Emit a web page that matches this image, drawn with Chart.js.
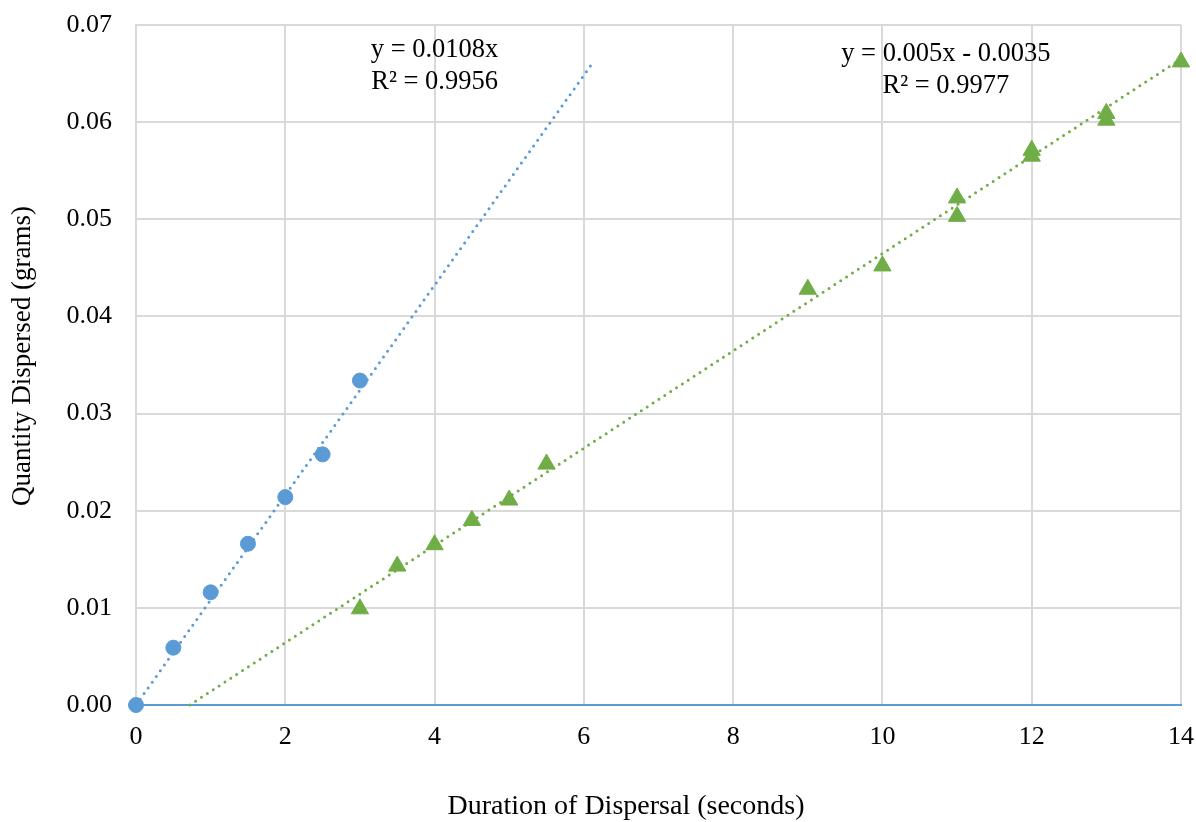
<!DOCTYPE html>
<html>
<head>
<meta charset="utf-8">
<script src="https://cdn.jsdelivr.net/npm/chart.js@4"></script>
<style>
    body { margin: 0; background: #fff; }
</style>
</head>
<body>
<canvas id="DispersalChart" width="1196" height="822"></canvas>
<script>
// utslag per tid
var blueX = [0, 0.5, 1, 1.5, 2, 2.5, 3];
var blueY = [0, 0.0059, 0.0116, 0.0166, 0.0214, 0.0258, 0.0334];

var greenX = [3, 3.5, 4, 4.5, 5, 5.5, 9, 10, 11, 11, 12, 12, 13, 13, 14];
var greenY = [0.0099, 0.0143, 0.0165, 0.019, 0.0211, 0.0248, 0.0428, 0.0452, 0.0522, 0.0503, 0.0571, 0.0565, 0.0609, 0.0602, 0.0662];

// trendlinjer, ändpunkter
var blueFitX = [0, 6.1];
var blueFitY = [0, 0.0659];
var greenFitX = [0.72, 14];
var greenFitY = [0, 0.0665];

var blueLabel = ["y = 0.0108x", "R² = 0.9956"];
var greenLabel = ["y = 0.005x - 0.0035", "R² = 0.9977"];

var xTitle = "Duration of Dispersal (seconds)";
var yTitle = "Quantity Dispersed (grams)";

var xTicks = [0, 2, 4, 6, 8, 10, 12, 14];
var yTicks = [0, 0.01, 0.02, 0.03, 0.04, 0.05, 0.06, 0.07];

function toPoints(xs, ys) {
    var pts = [];
    for (var i = 0; i < xs.length; ++i) {
        pts.push({ x: xs[i], y: ys[i] });
    }
    return pts;
}

var BLUE = "#5B9BD5";
var GREEN = "#70AD47";
var FONT = "'Liberation Serif', 'Times New Roman', serif";

// ekvationer och axeltitlar
var textPlugin = {
    id: "texts",
    afterDatasetsDraw: function (chart) {
        var ctx = chart.ctx;
        var xs = chart.scales.x;
        var ys = chart.scales.y;
        var labels = [
            { lines: blueLabel, x: 4.0, y: 0.0674 },
            { lines: greenLabel, x: 10.85, y: 0.067 }
        ];
        ctx.save();
        ctx.font = "26.5px " + FONT;
        ctx.fillStyle = "#000";
        ctx.textAlign = "center";
        ctx.textBaseline = "middle";
        labels.forEach(function (l) {
            var px = xs.getPixelForValue(l.x);
            var py = ys.getPixelForValue(l.y);
            for (var i = 0; i < l.lines.length; ++i) {
                ctx.fillText(l.lines[i], px, py + i * 32);
            }
        });

        // axeltitlar, Excel centrerar dem lite annorlunda
        ctx.font = "28px " + FONT;
        ctx.fillText(xTitle, 626, 807);

        ctx.font = "27px " + FONT;
        ctx.translate(23, 356);
        ctx.rotate(-Math.PI / 2);
        ctx.fillText(yTitle, 0, 0);
        ctx.restore();
    }
};

const data = {
    datasets: [
        {
            label: "Blue",
            data: toPoints(blueX, blueY),
            backgroundColor: BLUE,
            borderColor: BLUE,
            pointStyle: "circle",
            pointRadius: 7.5,
            clip: false,
            order: 0
        },
        {
            label: "Green",
            data: toPoints(greenX, greenY),
            backgroundColor: GREEN,
            borderColor: GREEN,
            pointStyle: "triangle",
            pointRadius: 10,
            clip: false,
            order: 0
        },
        {
            label: "Blue fit",
            data: toPoints(blueFitX, blueFitY),
            showLine: true,
            borderColor: BLUE,
            borderWidth: 3,
            borderDash: [0, 7],
            borderCapStyle: "round",
            pointRadius: 0,
            clip: false,
            order: 1
        },
        {
            label: "Green fit",
            data: toPoints(greenFitX, greenFitY),
            showLine: true,
            borderColor: GREEN,
            borderWidth: 3,
            borderDash: [0, 7],
            borderCapStyle: "round",
            pointRadius: 0,
            clip: false,
            order: 1
        }
    ]
};

const config = {
    type: "scatter",
    data: data,
    plugins: [textPlugin],
    options: {
        responsive: false,
        animation: false,
        layout: {
            padding: { left: 0, right: 15, top: 25, bottom: 0 }
        },
        plugins: {
            legend: { display: false },
            tooltip: { enabled: false }
        },
        scales: {
            x: {
                type: "linear",
                min: 0,
                max: 14,
                afterBuildTicks: function (scale) {
                    scale.ticks = xTicks.map(function (v) { return { value: v }; });
                },
                afterFit: function (scale) {
                    scale.height = 117;
                    scale.paddingLeft = 0;
                    scale.paddingRight = 0;
                },
                grid: { color: "#d9d9d9", lineWidth: 2, drawTicks: false },
                border: { color: BLUE, width: 2 },
                ticks: {
                    color: "#000",
                    padding: 17,
                    font: { family: FONT, size: 26 }
                }
            },
            y: {
                type: "linear",
                min: 0,
                max: 0.07,
                afterBuildTicks: function (scale) {
                    scale.ticks = yTicks.map(function (v) { return { value: v }; });
                },
                afterFit: function (scale) {
                    scale.width = 136;
                    scale.paddingTop = 0;
                    scale.paddingBottom = 0;
                },
                grid: { color: "#d9d9d9", lineWidth: 2, drawTicks: false },
                border: { color: "#d9d9d9", width: 2 },
                ticks: {
                    color: "#000",
                    padding: 24,
                    font: { family: FONT, size: 26 },
                    callback: function (v) { return v.toFixed(2); }
                }
            }
        }
    }
};

var myChart = new Chart(document.getElementById("DispersalChart"), config);
</script>
</body>
</html>
